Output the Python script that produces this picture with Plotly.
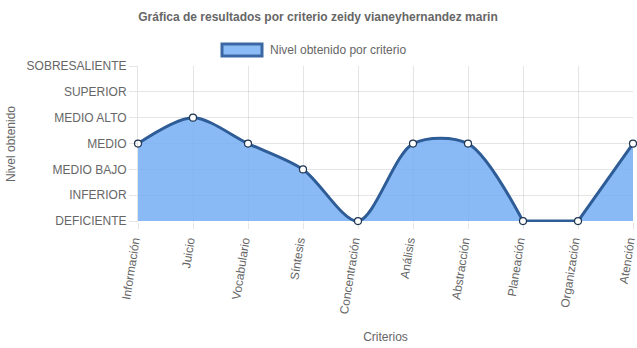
import plotly.graph_objects as go

# Criterios evaluados y nivel obtenido (índice dentro de la escala de niveles)
criterios = ["Información", "Juicio", "Vocabulario", "Síntesis", "Concentración",
             "Análisis", "Abstracción", "Planeación", "Organización", "Atención"]
niveles = ["DEFICIENTE", "INFERIOR", "MEDIO BAJO", "MEDIO",
           "MEDIO ALTO", "SUPERIOR", "SOBRESALIENTE"]
valores = [3, 4, 3, 2, 0, 3, 3, 0, 0, 3]

serie = "Nivel obtenido por criterio"

LINE = "#2e5c96"
FILL = "rgba(117,174,243,0.85)"
GRID = "rgba(0,0,0,0.10)"
TXT = "#666666"
FONT = "Liberation Sans, Arial, sans-serif"

# Área de trazado en píxeles
L, R, T, B = 138, 4, 66, 126
W, H = 637, 348
PW, PH = W - L - R, H - T - B

fig = go.Figure()

# Tramos de la curva: suavizado donde hay cambio de nivel, recto en tramos planos
tramos = [(0, 8, "spline"), (7, 9, "linear"), (8, 10, "spline")]
for a, b, forma in tramos:
    fig.add_trace(go.Scatter(
        x=criterios[a:b], y=valores[a:b],
        mode="lines",
        line=dict(color=LINE, width=3, shape=forma, smoothing=0.85),
        fill="tozeroy", fillcolor=FILL,
        showlegend=False, hoverinfo="skip", name=serie,
    ))

# Puntos de cada criterio
fig.add_trace(go.Scatter(
    x=criterios, y=valores, mode="markers",
    marker=dict(size=7, color="white", line=dict(color="#1f3550", width=1.2)),
    cliponaxis=False, showlegend=False, name=serie,
))

# Leyenda: rectángulo con borde y texto
def px_x(px):
    return (px - L) / PW

def px_y(py):
    return (H - B - py) / PH

fig.add_shape(type="rect", xref="paper", yref="paper",
              x0=px_x(222), x1=px_x(262), y0=px_y(56), y1=px_y(44),
              fillcolor="#8cbcf6", line=dict(color="#3b68a4", width=3))
fig.add_annotation(text=serie, xref="paper", yref="paper",
                   x=px_x(268), y=px_y(50),
                   xanchor="left", yanchor="middle", showarrow=False,
                   font=dict(size=12, color=TXT))

fig.update_layout(
    width=W, height=H,
    margin=dict(l=L, r=R, t=T, b=B),
    paper_bgcolor="white", plot_bgcolor="rgba(0,0,0,0)",
    font=dict(family=FONT, size=12, color=TXT),
    title=dict(text="<b>Gráfica de resultados por criterio zeidy vianeyhernandez marin</b>",
               x=(318 / W), xanchor="center", y=1 - 17 / H, yanchor="middle",
               font=dict(size=12, color=TXT)),
    showlegend=False,
    xaxis=dict(
        type="category", categoryorder="array", categoryarray=criterios,
        range=[0, len(criterios) - 1], automargin=False,
        showgrid=True, gridcolor=GRID, gridwidth=1,
        ticks="outside", ticklen=6, tickcolor=GRID,
        tickangle=-81, tickfont=dict(size=12, color=TXT),
        ticklabelshift=-4,
        showline=False, zeroline=False,
        title=dict(text="Criterios", font=dict(size=12, color=TXT), standoff=18),
    ),
    yaxis=dict(
        range=[-0.035, 6], automargin=False,
        tickvals=list(range(len(niveles))), ticktext=niveles,
        showgrid=True, gridcolor=GRID, gridwidth=1,
        ticks="outside", ticklen=8, tickcolor=GRID,
        tickfont=dict(size=12, color=TXT),
        showline=True, linecolor=GRID, zeroline=False,
        title=dict(text="Nivel obtenido", font=dict(size=12, color=TXT), standoff=8),
    ),
)

fig.write_html("out.html")
